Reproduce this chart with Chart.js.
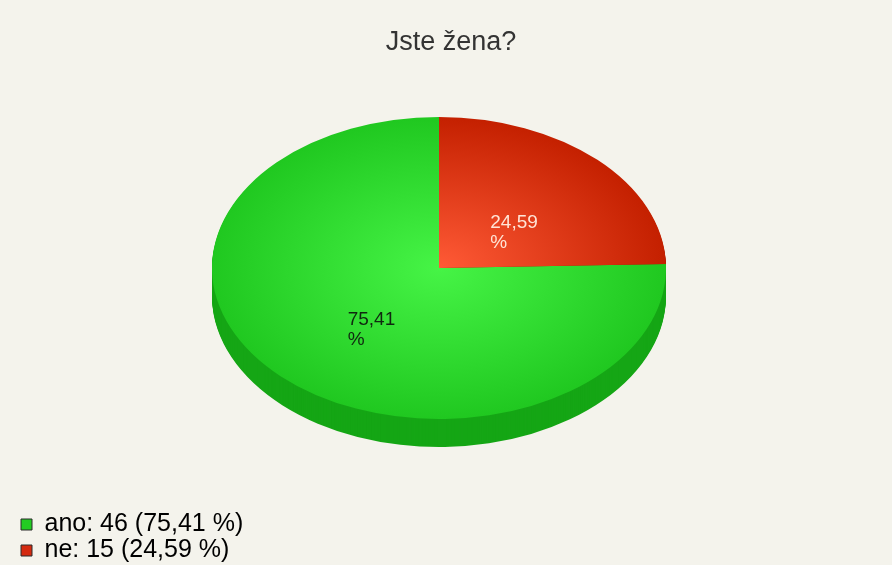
<!DOCTYPE html>
<html>
<head>
<meta charset="utf-8">
<script src="https://cdn.jsdelivr.net/npm/chart.js@4.4.1/dist/chart.umd.min.js"></script>
<style>
  html, body { margin: 0; padding: 0; background: #f4f3ec; }
  #chart { display: block; }
</style>
</head>
<body>
<canvas id="chart" width="892" height="565"></canvas>
<script>
const categories = ['ano', 'ne']
const counts = [46, 15]

// colours for the top face, the rim, legend boxes and in-slice labels
const topInner = ['#46f446', '#ff5a36']
const topOuter = ['#20c820', '#c42000']
const sideColors = ['#15a615', '#9c1a00']
const boxColors = ['#22cc22', '#d42a10']
const labelColors = ['#102810', '#ffe4d6']

// how the flat pie is projected into an ellipse with a rim
const PIE_X = 439
const PIE_Y = 268
const RX = 227
const RY = 151
const DEPTH = 28

const total = counts.reduce((a, b) => a + b, 0)
const pct = v => (v / total * 100).toFixed(2).replace('.', ',')

const project = (ctx, arc, d) => {
  ctx.translate(PIE_X, PIE_Y + d)
  ctx.scale(RX / arc.outerRadius, RY / arc.outerRadius)
  ctx.translate(-arc.x, -arc.y)
}

const pie3d = {
  id: 'pie3d',
  beforeDatasetsDraw(chart) {
    const ctx = chart.ctx
    const arcs = chart.getDatasetMeta(0).data
    // stack the slices downwards to fake the rim
    for (let d = DEPTH; d > 0; d--) {
      ctx.save()
      project(ctx, arcs[0], d)
      arcs.forEach((arc, i) => {
        ctx.beginPath()
        ctx.moveTo(arc.x, arc.y)
        ctx.arc(arc.x, arc.y, arc.outerRadius, arc.startAngle, arc.endAngle)
        ctx.closePath()
        ctx.fillStyle = sideColors[i]
        ctx.fill()
      })
      ctx.restore()
    }
    ctx.save()
    project(ctx, arcs[0], 0)
  },
  afterDatasetsDraw(chart) {
    const ctx = chart.ctx
    ctx.restore()
    const arcs = chart.getDatasetMeta(0).data
    ctx.save()
    ctx.font = '19px "Liberation Sans", Arial, sans-serif'
    ctx.textAlign = 'left'
    ctx.textBaseline = 'top'
    arcs.forEach((arc, i) => {
      const mid = (arc.startAngle + arc.endAngle) / 2
      const x = PIE_X + RX * 0.45 * Math.cos(mid) - 20
      const y = PIE_Y + RY * 0.45 * Math.sin(mid) - 6
      ctx.fillStyle = labelColors[i]
      ctx.fillText(pct(counts[i]), x, y)
      ctx.fillText('%', x, y + 20)
    })
    ctx.restore()
  }
}

const topFill = (c) => {
  const i = c.dataIndex
  const area = c.chart.chartArea
  if (!area) return topOuter[i]
  const x = (area.left + area.right) / 2
  const y = (area.top + area.bottom) / 2
  const r = Math.min(area.right - area.left, area.bottom - area.top) / 2
  const g = c.chart.ctx.createRadialGradient(x, y, 0, x, y, r)
  g.addColorStop(0, topInner[i])
  g.addColorStop(1, topOuter[i])
  return g
}

new Chart(document.getElementById('chart'), {
  type: 'pie',
  data: {
    labels: categories,
    datasets: [{
      data: counts,
      backgroundColor: topFill,
      borderWidth: 0,
      clip: false,
      // "ne" runs from 12 o'clock clockwise, "ano" fills the rest
      rotation: 360 * counts[1] / total
    }]
  },
  plugins: [pie3d],
  options: {
    responsive: false,
    animation: false,
    devicePixelRatio: 1,
    layout: { padding: { left: 20, right: 10, top: 0, bottom: 1 } },
    plugins: {
      tooltip: { enabled: false },
      title: {
        display: true,
        text: 'Jste žena?',
        color: '#333333',
        font: { family: '"Liberation Sans", Arial, sans-serif', size: 27, weight: 'normal' },
        padding: { top: 26, bottom: 10 }
      },
      legend: {
        position: 'left',
        align: 'end',
        labels: {
          font: { family: '"Liberation Sans", Arial, sans-serif', size: 25 },
          color: '#333333',
          boxWidth: 11,
          boxHeight: 11,
          padding: 1,
          generateLabels: () => categories.map((c, i) => ({
            text: c + ': ' + counts[i] + ' (' + pct(counts[i]) + ' %)',
            fillStyle: boxColors[i],
            strokeStyle: '#2a2a2a',
            lineWidth: 1,
            index: i
          }))
        }
      }
    }
  }
})
</script>
</body>
</html>
